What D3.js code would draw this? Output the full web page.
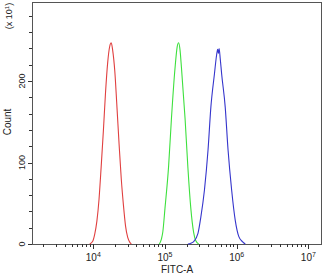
<!DOCTYPE html>
<html>
<head>
<meta charset="utf-8">
<script src="https://cdn.jsdelivr.net/npm/d3@7"></script>
<style>
  body { margin: 0; background: #fff; }
  svg { display: block; }
  text { font-family: "Liberation Sans", Arial, sans-serif; fill: #222; }
</style>
</head>
<body>
<svg id="chart" width="327" height="275"></svg>
<script>
// FITC-A values as log10 decades, counts in units of 10^1
var redLog   = [3.95, 3.99, 4.02, 4.05, 4.08, 4.11, 4.14, 4.17, 4.20, 4.23, 4.25, 4.27, 4.30, 4.33, 4.36, 4.39, 4.42, 4.45, 4.48, 4.51, 4.53];
var redCnt   = [0, 3, 12, 28, 55, 95, 138, 185, 222, 243, 247, 238, 212, 168, 122, 80, 48, 22, 8, 2, 0];

var greenLog = [4.92, 4.95, 4.97, 5.00, 5.05, 5.09, 5.14, 5.17, 5.19, 5.21, 5.23, 5.28, 5.32, 5.36, 5.40, 5.43, 5.47];
var greenCnt = [0, 6, 15, 44, 95, 154, 216, 242, 247, 238, 216, 154, 93, 44, 14, 4, 0];

var blueLog  = [5.32, 5.36, 5.40, 5.46, 5.50, 5.55, 5.60, 5.64, 5.69, 5.72, 5.735, 5.745, 5.755, 5.77, 5.79, 5.84, 5.88, 5.93, 5.98, 6.03, 6.08, 6.12];
var blueCnt  = [0, 1, 3, 13, 33, 66, 115, 168, 209, 232, 239, 234, 240, 228, 209, 168, 115, 66, 29, 9, 3, 0];

var yMajor = [0, 100, 200];
var xDecades = [4, 5, 6, 7];

var svg = d3.select("#chart");
var mLeft = 32, mRight = 322, mTop = 2, mBottom = 244;

var x = d3.scaleLog().domain([Math.pow(10, 3.145), Math.pow(10, 7.19)]).range([mLeft, mRight]);
var y = d3.scaleLinear().domain([0, 297]).range([mBottom, mTop]);

// frame
svg.append("rect")
  .attr("x", mLeft + 0.5).attr("y", mTop + 0.5)
  .attr("width", mRight - mLeft - 1).attr("height", mBottom - mTop)
  .attr("fill", "none").attr("stroke", "#555").attr("stroke-width", 1);

// x ticks (majors + 2..9 minors)
var xMinor = [];
for (var e = 3; e <= 7; e++) {
  for (var m = 2; m <= 9; m++) {
    var v = m * Math.pow(10, e);
    if (v >= x.domain()[0] && v <= x.domain()[1]) xMinor.push(v);
  }
}
var gx = svg.append("g").attr("stroke", "#333").attr("stroke-width", 1);
gx.selectAll("line.minor").data(xMinor).enter().append("line")
  .attr("x1", d => Math.round(x(d)) + 0.5).attr("x2", d => Math.round(x(d)) + 0.5)
  .attr("y1", mBottom).attr("y2", mBottom + 3);
gx.selectAll("line.major").data(xDecades).enter().append("line")
  .attr("x1", d => Math.round(x(Math.pow(10, d))) + 0.5).attr("x2", d => Math.round(x(Math.pow(10, d))) + 0.5)
  .attr("y1", mBottom).attr("y2", mBottom + 5);

var xl = svg.append("g").selectAll("text").data(xDecades).enter().append("text")
  .attr("x", d => x(Math.pow(10, d)))
  .attr("y", 261)
  .attr("text-anchor", "middle")
  .style("font-size", "10px");
xl.append("tspan").text("10");
xl.append("tspan").attr("dy", -4).style("font-size", "7px").text(d => d);

// y ticks
var yMinor = d3.range(0, 297, 20).filter(d => yMajor.indexOf(d) < 0);
var gy = svg.append("g").attr("stroke", "#333").attr("stroke-width", 1);
gy.selectAll("line.minor").data(yMinor).enter().append("line")
  .attr("x1", mLeft - 3).attr("x2", mLeft)
  .attr("y1", d => Math.round(y(d)) + 0.5).attr("y2", d => Math.round(y(d)) + 0.5);
gy.selectAll("line.major").data(yMajor).enter().append("line")
  .attr("x1", mLeft - 4).attr("x2", mLeft)
  .attr("y1", d => Math.round(y(d)) + 0.5).attr("y2", d => Math.round(y(d)) + 0.5);

svg.append("g").selectAll("text").data(yMajor).enter().append("text")
  .attr("transform", d => "translate(25," + y(d) + ") rotate(-90)")
  .attr("text-anchor", "middle")
  .style("font-size", "9px")
  .text(d => d);

// axis titles
svg.append("text")
  .attr("x", 177).attr("y", 273)
  .attr("text-anchor", "middle")
  .style("font-size", "10px")
  .text("FITC-A");

svg.append("text")
  .attr("transform", "translate(11,122) rotate(-90)")
  .attr("text-anchor", "middle")
  .style("font-size", "10px")
  .text("Count");

var mult = svg.append("text")
  .attr("transform", "translate(12,16) rotate(-90)")
  .attr("text-anchor", "middle")
  .style("font-size", "9px");
mult.append("tspan").text("(x 10");
mult.append("tspan").attr("dy", -3).style("font-size", "6px").text("1");
mult.append("tspan").attr("dy", 3).text(")");

// histograms
var line = d3.line()
  .x(d => x(Math.pow(10, d[0])))
  .y(d => y(d[1]))
  .curve(d3.curveMonotoneX);

var series = [
  { logs: redLog, cnts: redCnt, color: "#e04040" },
  { logs: greenLog, cnts: greenCnt, color: "#3ee03e" },
  { logs: blueLog, cnts: blueCnt, color: "#3535cc" }
];

svg.append("g").selectAll("path").data(series).enter().append("path")
  .attr("d", s => line(s.logs.map((v, i) => [v, s.cnts[i]])))
  .attr("fill", "none")
  .attr("stroke", s => s.color)
  .attr("stroke-width", 1.1);
</script>
</body>
</html>
